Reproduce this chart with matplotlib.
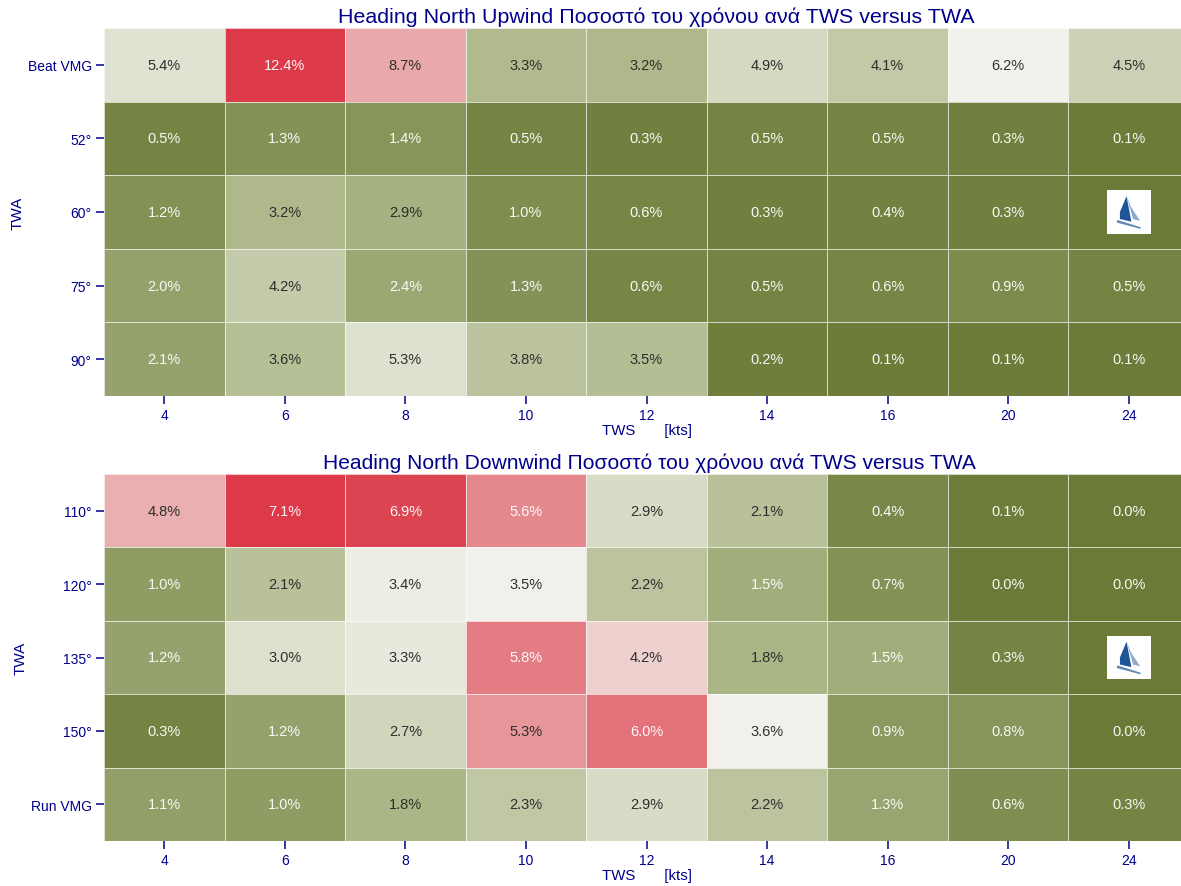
import numpy as np
import matplotlib
matplotlib.use("Agg")
import matplotlib.pyplot as plt
from matplotlib.colors import LinearSegmentedColormap, to_rgb
from matplotlib.patches import Polygon, Rectangle

plt.rcParams['font.family'] = ['Liberation Sans', 'DejaVu Sans']

tws = [4, 6, 8, 10, 12, 14, 16, 20, 24]
upwind_twa = ["Beat VMG", "52°", "60°", "75°", "90°"]
downwind_twa = ["110°", "120°", "135°", "150°", "Run VMG"]

# nan = cell hidden behind the logo
upwind = np.array([
    [5.4, 12.4, 8.7, 3.3, 3.2, 4.9, 4.1, 6.2, 4.5],
    [0.5, 1.3, 1.4, 0.5, 0.3, 0.5, 0.5, 0.3, 0.1],
    [1.2, 3.2, 2.9, 1.0, 0.6, 0.3, 0.4, 0.3, np.nan],
    [2.0, 4.2, 2.4, 1.3, 0.6, 0.5, 0.6, 0.9, 0.5],
    [2.1, 3.6, 5.3, 3.8, 3.5, 0.2, 0.1, 0.1, 0.1],
])
downwind = np.array([
    [4.8, 7.1, 6.9, 5.6, 2.9, 2.1, 0.4, 0.1, 0.0],
    [1.0, 2.1, 3.4, 3.5, 2.2, 1.5, 0.7, 0.0, 0.0],
    [1.2, 3.0, 3.3, 5.8, 4.2, 1.8, 1.5, 0.3, np.nan],
    [0.3, 1.2, 2.7, 5.3, 6.0, 3.6, 0.9, 0.8, 0.0],
    [1.1, 1.0, 1.8, 2.3, 2.9, 2.2, 1.3, 0.6, 0.3],
])

navy = "#00008b"
cmap = LinearSegmentedColormap.from_list(
    "olive_red", [(0, "#6b7a36"), (0.25, "#abb687"), (0.5, "#f2f2ec"), (1, "#dc3a48")])
cmap.set_bad("#6b7a36")

W, H = 1181, 887


def luminance(rgb):
    c = np.array(to_rgb(rgb))
    c = np.where(c <= 0.03928, c / 12.92, ((c + 0.055) / 1.055) ** 2.4)
    return c @ [0.2126, 0.7152, 0.0722]


def draw_logo(ax, col, row):
    # little white badge with the sail boat, centred in the cell
    w, h = 44 / 120.6, 44 / 73.6
    x0, y0 = col + 0.5 - w / 2, row + 0.5 - h / 2
    ax.add_patch(Rectangle((x0, y0), w, h, fc="white", ec="none", zorder=5))
    def pts(p):
        return [(x0 + w * a, y0 + h * b) for a, b in p]
    ax.add_patch(Polygon(pts([(.45, .14), (.30, .50), (.30, .66), (.56, .72), (.50, .40)]),
                         fc="#1f5596", ec="none", zorder=6))
    ax.add_patch(Polygon(pts([(.45, .14), (.56, .40), (.76, .70), (.60, .66)]),
                         fc="#8fa9c8", ec="none", zorder=6))
    ax.add_patch(Polygon(pts([(.24, .68), (.78, .85), (.76, .88), (.23, .74)]),
                         fc="#5f86b3", ec="none", zorder=6))


def heatmap(box, data, ylabels, title, title_x, title_y, title_size, xlab_y, ylab_x):
    left, top, right, bottom = box
    ax = fig.add_axes([left / W, 1 - bottom / H, (right - left) / W, (bottom - top) / H])
    vmax = np.nanmax(data)
    ax.pcolormesh(data, cmap=cmap, vmin=0, vmax=vmax,
                  edgecolors=(1, 1, 1, 0.7), linewidth=0.7)
    ax.invert_yaxis()
    ax.set_xlim(0, len(tws))

    for i in range(data.shape[0]):
        for j in range(data.shape[1]):
            v = data[i, j]
            if np.isnan(v):
                continue
            col = "#262626" if luminance(cmap(v / vmax)) > 0.408 else "white"
            ax.text(j + 0.5, i + 0.5, f"{v:.1f}%", ha="center", va="center",
                    fontsize=10.5, color=col, alpha=0.95)

    ax.set_xticks(np.arange(len(tws)) + 0.5)
    ax.set_xticklabels(tws)
    ax.set_yticks(np.arange(len(ylabels)) + 0.5)
    ax.set_yticklabels(ylabels)
    ax.tick_params(length=5.8, width=1.1, color=navy, labelcolor=navy, labelsize=10, pad=3)
    for s in ax.spines.values():
        s.set_visible(False)

    fig.text(title_x / W, 1 - title_y / H, title, color=navy, fontsize=title_size,
             ha="center", va="center")
    fig.text(646.5 / W, 1 - xlab_y / H, "TWS       [kts]", color=navy, fontsize=10.8,
             ha="center", va="center")
    fig.text(ylab_x / W, 1 - (top + bottom) / 2 / H, "TWA", color=navy, fontsize=11,
             rotation=90, ha="center", va="center")
    draw_logo(ax, 8, 2)
    return ax


fig = plt.figure(figsize=(W / 100, H / 100), dpi=100)

# the last column runs a little past the right edge of the figure, as in the original
heatmap((104, 29, 1189, 397), upwind, upwind_twa,
        "Heading North Upwind Ποσοστό του χρόνου ανά TWS versus TWA", 656, 17, 15.4, 431, 18)
heatmap((104, 475, 1189, 842), downwind, downwind_twa,
        "Heading North Downwind Ποσοστό του χρόνου ανά TWS versus TWA", 649, 463, 15.1, 876, 21)

fig.savefig("out.png", dpi=100)
